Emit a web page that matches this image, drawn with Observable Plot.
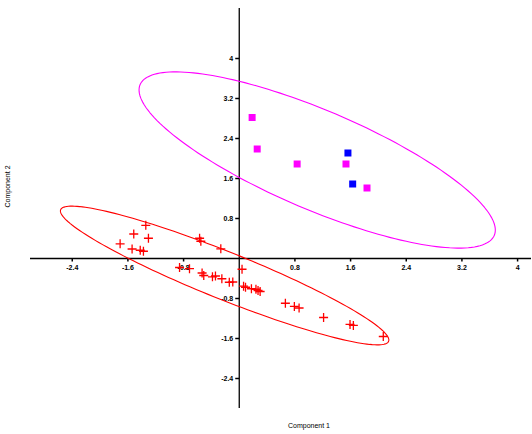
<!DOCTYPE html>
<html><head><meta charset="utf-8">
<script src="https://cdn.jsdelivr.net/npm/d3@7"></script>
<script src="https://cdn.jsdelivr.net/npm/@observablehq/plot@0.6"></script>
<style>body{margin:0;background:#fff}</style>
</head><body><div id="chart"></div>
<script>
// Group A (magenta squares)
const magX = [0.185, 0.258, 0.832, 1.534, 1.836];
const magY = [2.82, 2.19, 1.89, 1.89, 1.41];
// Group B (blue squares)
const blueX = [1.562, 1.630];
const blueY = [2.11, 1.49];
// Group C (red plus)
const redX = [-1.343,-1.516,-1.305,-1.712,-1.540,-1.423,-1.377,-0.570,-0.552,-0.265,
  -0.858,-0.715,-0.534,-0.510,-0.385,-0.342,-0.250,-0.143,-0.093,0.040,
  0.062,0.090,0.175,0.240,0.270,0.300,0.663,0.792,0.860,1.212,1.592,1.640,2.070];
const redY = [0.663,0.490,0.405,0.293,0.190,0.165,0.145,0.405,0.345,0.193,
  -0.180,-0.203,-0.290,-0.340,-0.367,-0.350,-0.405,-0.475,-0.470,-0.215,
  -0.553,-0.575,-0.605,-0.615,-0.640,-0.660,-0.895,-0.958,-0.990,-1.180,-1.318,-1.338,-1.560];
// Ellipses: center, conjugate half-diameter u, vertical half-diameter v
const magEllipse = [1.12, 1.97, 2.56, -1.40, 0, 1.07];
const redEllipse = [-0.21, -0.34, 2.36, -1.29, 0, 0.51];
// Tick labels
const xTicks = [-2.4, -1.6, -0.8, 0.8, 1.6, 2.4, 3.2, 4];
const yTicks = [4, 3.2, 2.4, 1.6, 0.8, -0.8, -1.6, -2.4];

const pts = (xs, ys) => xs.map((x, i) => ({x, y: ys[i]}));
const ellipse = ([cx, cy, ux, uy, vx, vy]) =>
  d3.range(0, 361, 2).map(a => { const t = a * Math.PI / 180;
    return {x: cx + ux * Math.cos(t) + vx * Math.sin(t), y: cy + uy * Math.cos(t) + vy * Math.sin(t)}; });

const plusSym = {draw(ctx){ const r = 4.5; ctx.moveTo(-r,0); ctx.lineTo(r,0); ctx.moveTo(0,-r); ctx.lineTo(0,r); }};
const squareSym = {draw(ctx){ ctx.rect(-3.5,-3.5,7,7); }};
const yTickSym = {draw(ctx){ ctx.moveTo(-4,0); ctx.lineTo(0,0); }};
const xTickSym = {draw(ctx){ ctx.moveTo(0,0); ctx.lineTo(0,3); }};

const chart = Plot.plot({
  width: 532, height: 434,
  marginLeft: 30, marginRight: 1, marginTop: 8, marginBottom: 26,
  x: {domain: [-3, 4.2], axis: null},
  y: {domain: [-3, 5], axis: null},
  style: {fontFamily: "Liberation Sans, Arial, sans-serif", fontSize: "7px", background: "#fff", color: "#000"},
  marks: [
    Plot.ruleY([0], {stroke: "#000", strokeWidth: 1.3}),
    Plot.ruleX([0], {stroke: "#000", strokeWidth: 1.3}),
    Plot.dot(yTicks, {x: () => 0, y: d => d, symbol: yTickSym, stroke: "#000", fill: "none"}),
    Plot.dot(xTicks, {x: d => d, y: () => 0, symbol: xTickSym, stroke: "#000", fill: "none"}),
    Plot.text(xTicks, {x: d => d, y: () => 0, text: d => String(d), dy: 9, fill: "#000", fontWeight: "bold"}),
    Plot.text(yTicks, {x: () => 0, y: d => d, text: d => String(d), dx: -6, textAnchor: "end", fill: "#000", fontWeight: "bold"}),
    Plot.line(ellipse(magEllipse), {x: "x", y: "y", stroke: "#ff00ff", strokeWidth: 1.1}),
    Plot.line(ellipse(redEllipse), {x: "x", y: "y", stroke: "#ff0000", strokeWidth: 1.1}),
    Plot.dot(pts(redX, redY), {x: "x", y: "y", symbol: plusSym, stroke: "#ff0000", strokeWidth: 1.3, fill: "none"}),
    Plot.dot(pts(magX, magY), {x: "x", y: "y", symbol: squareSym, fill: "#ff00ff", stroke: "none"}),
    Plot.dot(pts(blueX, blueY), {x: "x", y: "y", symbol: squareSym, fill: "#0000ff", stroke: "none"}),
    Plot.text(["Component 1"], {frameAnchor: "bottom", dx: 28, dy: 19, fill: "#000"}),
    Plot.text(["Component 2"], {frameAnchor: "left", dx: -23, dy: -1, rotate: -90, fill: "#000"})
  ]
});
document.getElementById("chart").appendChild(chart);
</script>
</body></html>
